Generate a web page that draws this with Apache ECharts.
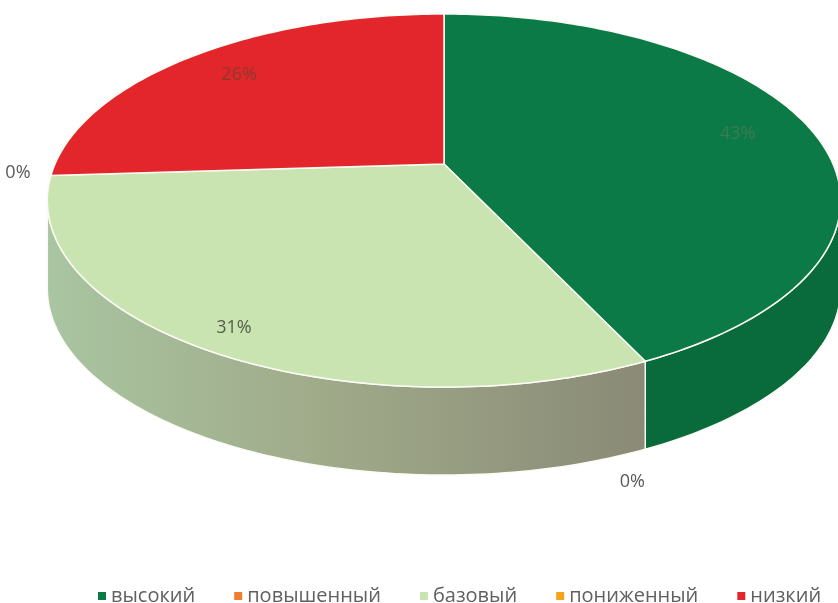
<!DOCTYPE html>
<html>
<head>
<meta charset="utf-8">
<script src="https://cdn.jsdelivr.net/npm/echarts@6/dist/echarts.min.js"></script>
<style>
    html, body { margin: 0; background: #fff; }
    #chart { width: 838px; height: 603px; }
</style>
</head>
<body>
<div id="chart"></div>
<script>
// категории и доли, %
const categories = ['высокий', 'повышенный', 'базовый', 'пониженный', 'низкий'];
const values = [43, 0, 31, 0, 26];

// цвета: верх, подписи
const topColors = ['#0b7a46', '#ed7d31', '#c9e4b0', '#f5a31a', '#e2262b'];
const labelColors = ['#3f7a55', '#595959', '#55604b', '#595959', '#8d3a2c'];

const total = values.reduce((a, b) => a + b, 0);

// геометрия "3D" круга (перспектива)
const CX = 444, CY = 164, R = 389, S = 179.4, P = 0.1957, DEPTH = 88;
const SIL0 = 90 + Math.asin(P) * 180 / Math.PI;   // видимая боковина
const SIL1 = 270 - Math.asin(P) * 180 / Math.PI;

// где ставить подписи
const labelR = [0.8, 1, 0.9, 1, 0.8];
const zeroOffset = [null, [-13, 121], null, [-33, -3], null];

function proj(c, f, dy) {
    let t = (90 - c) * Math.PI / 180;
    let u = f * Math.cos(t), v = f * Math.sin(t);
    let w = 1 + P * v;
    return [CX + R * u / w, CY - S * v / w + (dy || 0)];
}

function arc(c0, c1, dy) {
    let pts = [];
    let n = Math.max(2, Math.ceil(Math.abs(c1 - c0)));
    for (let i = 0; i <= n; i++) {
        pts.push(proj(c0 + (c1 - c0) * i / n, 1, dy));
    }
    return pts;
}

function makeRender(idx) {
    return function (params, api) {
        let start = api.value(0), val = api.value(1);
        let c0 = start / total * 360, c1 = (start + val) / total * 360;
        let children = [];
        let pct = Math.round(val / total * 100) + '%';
        let pos;
        if (val > 0) {
            // боковина
            let a = Math.max(c0, SIL0), b = Math.min(c1, SIL1);
            if (a < b) {
                let side = arc(a, b, 0).concat(arc(b, a, DEPTH));
                let fill = idx === 2
                    ? new echarts.graphic.LinearGradient(0, 0, 1, 0, [
                        { offset: 0, color: '#a9c5a1' },
                        { offset: 0.45, color: '#a0ab8a' },
                        { offset: 1, color: '#8a8a76' }])
                    : '#096a3c';
                children.push({
                    type: 'polygon', z2: 1,
                    shape: { points: side },
                    style: { fill: fill, stroke: '#fbfbf3', lineWidth: 1.5 }
                });
            }
            // верх
            let topPts = [proj(0, 0)].concat(arc(c0, c1, 0));
            children.push({
                type: 'polygon', z2: 10,
                shape: { points: topPts },
                style: { fill: topColors[idx], stroke: '#fbfbf3', lineWidth: 1.5 }
            });
            pos = proj((c0 + c1) / 2, labelR[idx]);
        } else {
            let p = proj(c0, 1);
            pos = [p[0] + zeroOffset[idx][0], p[1] + zeroOffset[idx][1]];
        }
        children.push({
            type: 'text', z2: 20, x: pos[0], y: pos[1],
            style: {
                text: pct, fill: labelColors[idx],
                fontSize: 18, fontFamily: 'Open Sans',
                align: 'center', verticalAlign: 'middle'
            }
        });
        return { type: 'group', children: children };
    };
}

let series = [];
let acc = 0;
categories.forEach((name, i) => {
    series.push({
        name: name,
        type: 'custom',
        coordinateSystem: 'none',
        silent: true,
        itemStyle: { color: topColors[i] },
        renderItem: makeRender(i),
        data: [[acc, values[i]]]
    });
    acc += values[i];
});

let chart = echarts.init(document.getElementById('chart'));
chart.setOption({
    animation: false,
    backgroundColor: '#fff',
    legend: {
        data: categories,
        top: 581,
        left: 93,
        icon: 'rect',
        itemWidth: 8,
        itemHeight: 8,
        itemGap: 39,
        textStyle: { fontSize: 20, color: '#606060', fontFamily: 'Open Sans' }
    },
    series: series
});
</script>
</body>
</html>
